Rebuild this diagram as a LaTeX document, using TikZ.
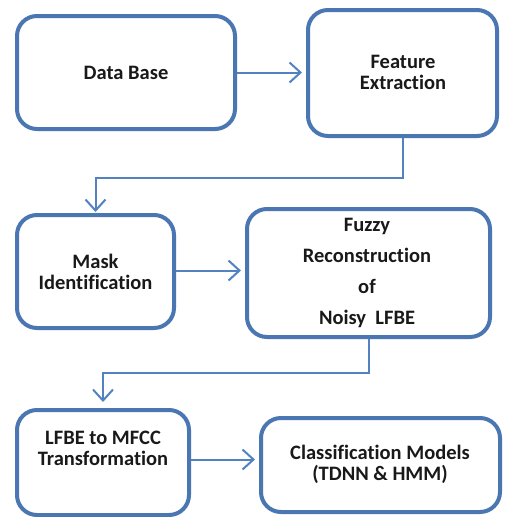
\documentclass[tikz,border=0pt]{standalone}
\usepackage{fontspec}
\setmainfont[Ligatures={NoCommon,NoContextual}]{Carlito}
\usetikzlibrary{arrows.meta}
\definecolor{boxblue}{HTML}{4A76B2}
\definecolor{arrblue}{HTML}{5382C0}
\tikzset{
  stepbox/.style={draw=boxblue, line width=4pt, rounded corners=20pt, fill=white, inner sep=0pt},
  txt/.style={align=center, font=\fontsize{20.5}{21}\selectfont\bfseries, text=black!90},
  arr/.style={draw=arrblue, line width=2pt, -{Straight Barb[length=11pt,width=20pt,line width=2pt]}, shorten >=4pt}
}
\begin{document}
\begin{tikzpicture}[x=1pt,y=-1pt]
\useasboundingbox[fill=white] (0,0) rectangle (504,517);
\node[stepbox, minimum width=218pt, minimum height=113pt] (b1) at (126,72.5) {};
\node[txt] (t1) at (b1) {Data Base};
\node[stepbox, minimum width=189pt, minimum height=126pt] (b2) at (402.5,73) {};
\node[txt] (t2) at (403,72) {Feature\\Extraction};
\node[stepbox, minimum width=157pt, minimum height=113pt] (b3) at (95.5,271.5) {};
\node[txt] (t3) at (95.5,272) {Mask\\Identification};
\node[stepbox, minimum width=243pt, minimum height=128pt] (b4) at (368.5,273) {};
\node[txt] (t4) at (367,273) {Fuzzy\\[10pt]Reconstruction\\[10pt]of\\[10pt]Noisy~~LFBE};
\node[stepbox, minimum width=172pt, minimum height=105pt] (b5) at (103,462.5) {};
\node[txt] (t5) at (103,448) {LFBE to MFCC\\Transformation};
\node[stepbox, minimum width=239pt, minimum height=94pt] (b6) at (380.5,465) {};
\node[txt] (t6) at (380,464) {Classification Models\\(TDNN \& HMM)};
\coordinate (k1) at (0,178);
\coordinate (k2) at (0,373);
\draw[arr] (b1.east) -- (b1.east -| b2.west);
\draw[arr, shorten >=1pt] (b2.south) |- (k1 -| b3.north) -- (b3.north);
\draw[arr] ([yshift=1pt]b3.east) -- ([yshift=1pt]b3.east -| b4.west);
\draw[arr, shorten >=6pt] (b4.south) |- (k2 -| b5.north) -- (b5.north);
\draw[arr] ([yshift=3pt]b5.east) -- ([yshift=3pt]b5.east -| b6.west);
\end{tikzpicture}
\end{document}
